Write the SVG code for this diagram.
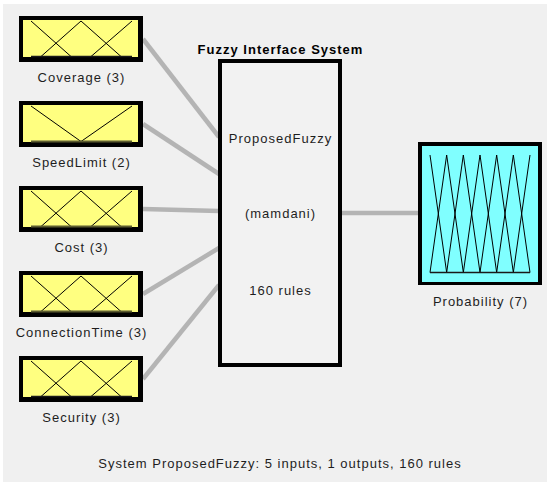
<svg xmlns="http://www.w3.org/2000/svg" width="547" height="482" viewBox="0 0 547 482">
  <style>
    text { font-family: "Liberation Sans", Arial, Helvetica, sans-serif; font-size: 13px; fill: #1e1e1e; letter-spacing: 1px; }
    .lbl { text-anchor: middle; }
    .title { font-weight: bold; fill: #000; }
    .frame { fill: #000; }
    .in { fill: #ffff80; }
    .out { fill: #80ffff; }
    .sys { fill: #f2f2f2; }
    .mf { fill: none; stroke: #000; stroke-width: 1; }
    .base { fill: none; stroke: #1a1a1a; stroke-width: 1.3; }
    .base2 { fill: none; stroke: #5c5c30; stroke-width: 2; }
    .wire { stroke: #b4b4b4; stroke-width: 4.5; fill: none; }
  </style>
  <defs>
    <!-- three triangular membership functions inside an input box -->
    <g id="mf3">
      <path class="mf" d="M12,5 L52,40.5 M22,40.5 L62,5 L102,40.5 M72,40.5 L113,5"/>
    </g>
    <!-- two membership functions (V shape) -->
    <g id="mf2">
      <path class="mf" d="M12,5 L62,40.5 L113,5"/>
    </g>
    <g id="inbox">
      <rect class="frame" x="0" y="0" width="124" height="46"/>
      <rect class="in" x="4" y="4" width="115" height="37"/>
    </g>
  </defs>

  <!-- panel -->
  <rect x="0" y="0" width="547" height="482" fill="#ffffff"/>
  <rect x="3" y="4" width="544" height="478" fill="#f0f0f0"/>

  <!-- connectors -->
  <g id="connectors">
    <line class="wire" x1="143" y1="39" x2="219" y2="137"/>
    <line class="wire" x1="143" y1="124" x2="219" y2="174"/>
    <line class="wire" x1="143" y1="209" x2="219" y2="211"/>
    <line class="wire" x1="143" y1="294" x2="219" y2="248"/>
    <line class="wire" x1="143" y1="379" x2="219" y2="285"/>
    <line class="wire" x1="341" y1="213" x2="419" y2="213"/>
  </g>

  <!-- inputs -->
  <g id="coverage" transform="translate(19,16)">
    <use href="#inbox"/>
    <use href="#mf3"/>
    <path class="base" d="M12,40.5 H113"/>
    <text class="lbl" x="62.5" y="66">Coverage (3)</text>
  </g>
  <g id="speedlimit" transform="translate(19,101)">
    <use href="#inbox"/>
    <use href="#mf2"/>
    <path class="base2" d="M12,40.5 H113"/>
    <text class="lbl" x="62.5" y="66">SpeedLimit (2)</text>
  </g>
  <g id="cost" transform="translate(19,186)">
    <use href="#inbox"/>
    <use href="#mf3"/>
    <path class="base2" d="M12,40.5 H113"/>
    <text class="lbl" x="62.5" y="66">Cost (3)</text>
  </g>
  <g id="connectiontime" transform="translate(19,271)">
    <use href="#inbox"/>
    <use href="#mf3"/>
    <path class="base2" d="M12,40.5 H113"/>
    <text class="lbl" x="62.5" y="66">ConnectionTime (3)</text>
  </g>
  <g id="security" transform="translate(19,356)">
    <use href="#inbox"/>
    <use href="#mf3"/>
    <path class="base" d="M12,40.5 H113"/>
    <text class="lbl" x="62.5" y="66">Security (3)</text>
  </g>

  <!-- inference system -->
  <g id="system">
    <text class="lbl title" x="280.5" y="54">Fuzzy Interface System</text>
    <rect class="frame" x="218" y="59" width="124" height="308"/>
    <rect class="sys" x="222" y="63" width="116" height="300"/>
    <text class="lbl" x="280.5" y="143">ProposedFuzzy</text>
    <text class="lbl" x="280.5" y="218">(mamdani)</text>
    <text class="lbl" x="280.5" y="295">160 rules</text>
  </g>

  <!-- output -->
  <g id="probability">
    <rect class="frame" x="418" y="142" width="124" height="143"/>
    <rect class="out" x="422" y="146" width="116" height="136"/>
    <path class="mf" d="M430,155 L446.67,272.5 M430,272.5 L446.67,155 L463.33,272.5 M446.67,272.5 L463.33,155 L480,272.5 M463.33,272.5 L480,155 L496.67,272.5 M480,272.5 L496.67,155 L513.33,272.5 M496.67,272.5 L513.33,155 L530,272.5 M513.33,272.5 L530,155"/>
    <path class="base" d="M430,272.5 H530" stroke-width="2"/>
    <text class="lbl" x="480.5" y="306">Probability (7)</text>
  </g>

  <!-- summary line -->
  <text class="lbl" x="280" y="468" fill="#333">System ProposedFuzzy: 5 inputs, 1 outputs, 160 rules</text>
</svg>
